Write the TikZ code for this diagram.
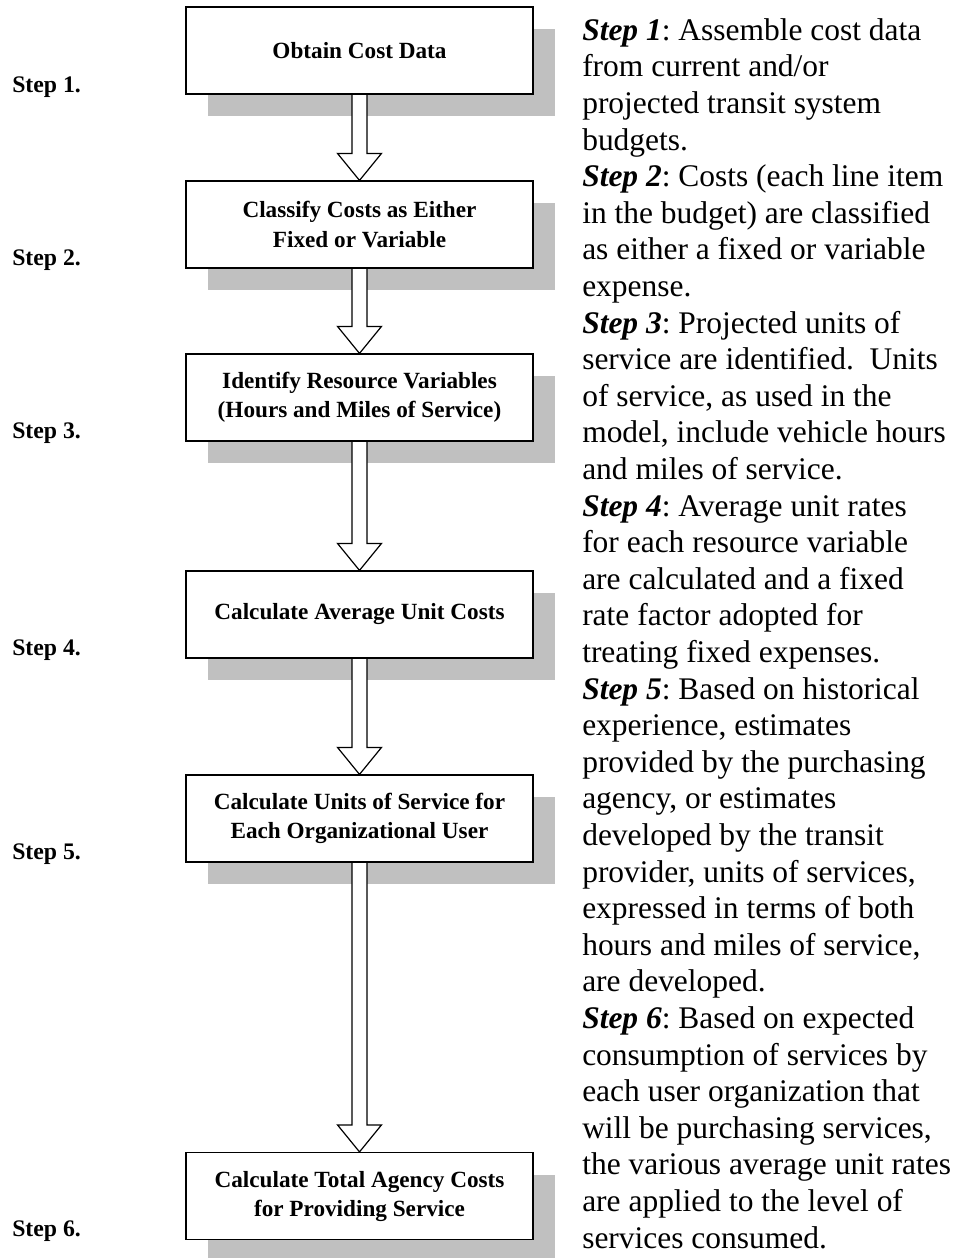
\documentclass[tikz,border=0pt]{standalone}
\usepackage{fontspec}
\setmainfont{Liberation Serif}
\usetikzlibrary{positioning,calc,shadows}

\definecolor{shadowgray}{HTML}{C0C0C0}

% hollow block arrow from the bottom of one box to the top of the next
\newcommand{\flowarrow}[2]{%
  \draw[blockarrow] let \p1=(#1.south), \p2=(#2.north) in
    (\x1-5.625pt,\y1-0.45pt) -- (\x1-5.625pt,\y2+20.25pt) -- (\x1-16.5pt,\y2+20.25pt)
    -- (\x1,\y2) -- (\x1+16.5pt,\y2+20.25pt) -- (\x1+5.625pt,\y2+20.25pt)
    -- (\x1+5.625pt,\y1-0.45pt);}

\begin{document}
\begin{tikzpicture}[
  x=0.75pt, y=-0.75pt,
  every node/.style={inner sep=0pt},
  stepbox/.style={draw=black, line width=0.9pt, fill=white,
    minimum width=260.25pt, minimum height=65.25pt, align=center,
    font=\bfseries\fontsize{17.4}{21.75}\selectfont,
    drop shadow={shadow xshift=16.5pt, shadow yshift=-16.5pt, fill=shadowgray, opacity=1}},
  steplabel/.style={anchor=base west, font=\bfseries\fontsize{17.8}{20}\selectfont},
  notes/.style={anchor=base west, align=left, font=\fontsize{23.6}{27.45}\selectfont\frenchspacing},
  blockarrow/.style={draw=black, line width=0.9pt, fill=white, line join=miter}
]
\useasboundingbox (0,0) rectangle (957,1258);

% ---- flow boxes ----
\node[stepbox] (cost) at (359.5,50.5) {Obtain Cost Data};
\node[stepbox] (classify) at (359.5,224.5) {Classify Costs as Either\\Fixed or Variable};
\node[stepbox] (resource) at (359.5,397.5) {Identify Resource Variables\\(Hours and Miles of Service)};
\node[stepbox] (average) at (359.5,614.5) {Calculate Average Unit Costs};
\node[stepbox] (units) at (359.5,818.5) {Calculate Units of Service for\\Each Organizational User};
\node[stepbox] (total) at (359.5,1196) {Calculate Total Agency Costs\\for Providing Service};

% ---- arrows ----
\flowarrow{cost}{classify}
\flowarrow{classify}{resource}
\flowarrow{resource}{average}
\flowarrow{average}{units}
\flowarrow{units}{total}

% ---- step labels ----
\node[steplabel] (s1) at (12,92) {Step 1.};
\node[steplabel] (s2) at (12,265) {Step 2.};
\node[steplabel] (s3) at (12,438) {Step 3.};
\node[steplabel] (s4) at (12,655) {Step 4.};
\node[steplabel] (s5) at (12,859) {Step 5.};
\node[steplabel] (s6) at (12,1236) {Step 6.};

% ---- description (anchored at its last baseline) ----
\node[notes] (notes) at (582,1248) {%
\textbf{\textit{Step 1}}: Assemble cost data\\
from current and/or\\
projected transit system\\
budgets.\\
\textbf{\textit{Step 2}}: Costs (each line item\\
in the budget) are classified\\
as either a fixed or variable\\
expense.\\
\textbf{\textit{Step 3}}: Projected units of\\
service are identified.~~Units\\
of service, as used in the\\
model, include vehicle hours\\
and miles of service.\\
\textbf{\textit{Step 4}}: Average unit rates\\
for each resource variable\\
are calculated and a fixed\\
rate factor adopted for\\
treating fixed expenses.\\
\textbf{\textit{Step 5}}: Based on historical\\
experience, estimates\\
provided by the purchasing\\
agency, or estimates\\
developed by the transit\\
provider, units of services,\\
expressed in terms of both\\
hours and miles of service,\\
are developed.\\
\textbf{\textit{Step 6}}: Based on expected\\
consumption of services by\\
each user organization that\\
will be purchasing services,\\
the various average unit rates\\
are applied to the level of\\
services consumed.};
\end{tikzpicture}
\end{document}
